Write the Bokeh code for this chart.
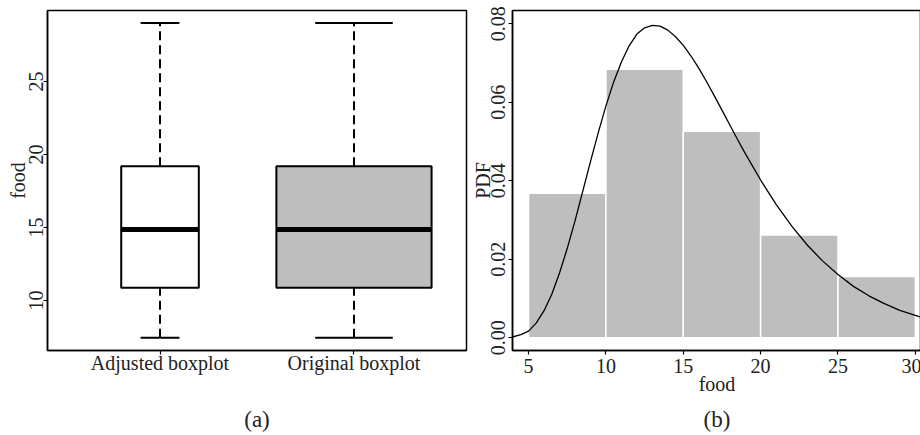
from bokeh.plotting import figure
from bokeh.layouts import row
from bokeh.models import (Range1d, FixedTicker, NumeralTickFormatter,
                          ColumnDataSource, LinearAxis)
from bokeh.embed import file_html
from bokeh.resources import INLINE

# ---------------- data ----------------
box_labels = ["Adjusted boxplot", "Original boxplot"]
box_lower = [7.45, 7.45]
box_q1 = [10.87, 10.87]
box_median = [14.86, 14.86]
box_q3 = [19.2, 19.2]
box_upper = [29.0, 29.0]
box_fill = ["white", "#BEBEBE"]
box_width = [0.4, 0.8]
y_ticks_a = [10, 15, 20, 25]

hist_edges = [5, 10, 15, 20, 25, 30]
hist_density = [0.0368, 0.0684, 0.0526, 0.0262, 0.0156]
x_ticks_b = [5, 10, 15, 20, 25, 30]
y_ticks_b = [0, 0.02, 0.04, 0.06, 0.08]

curve_x = [3.96, 4.5, 5, 5.5, 6, 6.5, 7, 7.5, 8, 8.5, 9, 9.5, 10, 10.5, 11,
           11.5, 12, 12.5, 13, 13.5, 14, 14.5, 15, 15.5, 16, 16.5, 17, 17.5,
           18, 18.5, 19, 19.5, 20, 21, 22, 23, 24, 25, 26, 27, 28, 29, 30, 30.4]
curve_y = [0.0002, 0.0008, 0.0017, 0.0038, 0.0069, 0.0111, 0.0165, 0.0228,
           0.0298, 0.0373, 0.0449, 0.0522, 0.0591, 0.0652, 0.0703, 0.0744,
           0.0774, 0.0790, 0.0796, 0.0794, 0.0784, 0.0767, 0.0745, 0.0718,
           0.0687, 0.0653, 0.0617, 0.0580, 0.0543, 0.0506, 0.0470, 0.0436,
           0.0402, 0.0340, 0.0285, 0.0237, 0.0196, 0.0161, 0.0131, 0.0107,
           0.0087, 0.0070, 0.0057, 0.0052]

FONT = "Liberation Serif"
TXT = "#222222"


def style_axes(p):
    for ax in p.axis:
        ax.axis_line_color = "black"
        ax.axis_line_width = 1.5
        ax.major_tick_line_color = "black"
        ax.major_tick_line_width = 1.2
        ax.major_tick_out = 4
        ax.major_tick_in = 0
        ax.minor_tick_line_color = None
        ax.major_label_text_font = FONT
        ax.major_label_text_font_size = "20px"
        ax.major_label_text_color = TXT
        ax.axis_label_text_font = FONT
        ax.axis_label_text_font_size = "20px"
        ax.axis_label_text_font_style = "normal"
        ax.axis_label_text_color = TXT
    p.xgrid.visible = False
    p.ygrid.visible = False
    p.outline_line_color = "black"
    p.outline_line_width = 1.5
    p.background_fill_color = "white"
    p.border_fill_color = "white"


# ---------------- panel (a) ----------------
pos = list(range(1, len(box_labels) + 1))
src = ColumnDataSource(dict(
    x=pos, lower=box_lower, q1=box_q1, med=box_median, q3=box_q3,
    upper=box_upper, fill=box_fill, w=box_width,
    x_l=[p - w / 2 for p, w in zip(pos, box_width)],
    x_r=[p + w / 2 for p, w in zip(pos, box_width)],
    c_l=[p - w / 4 for p, w in zip(pos, box_width)],
    c_r=[p + w / 4 for p, w in zip(pos, box_width)],
))

p1 = figure(frame_width=419, frame_height=340, output_backend="svg",
            toolbar_location=None,
            x_range=Range1d(0.42, 2.58), y_range=Range1d(6.58, 29.86),
            min_border_left=47, min_border_right=2, min_border_top=10,
            min_border_bottom=85)

p1.segment(x0="x", y0="q3", x1="x", y1="upper", source=src, line_color="black",
           line_width=2, line_dash="9 5")
p1.segment(x0="x", y0="lower", x1="x", y1="q1", source=src, line_color="black",
           line_width=2, line_dash="9 5")
p1.segment(x0="c_l", y0="upper", x1="c_r", y1="upper", source=src,
           line_color="black", line_width=2)
p1.segment(x0="c_l", y0="lower", x1="c_r", y1="lower", source=src,
           line_color="black", line_width=2)
p1.vbar(x="x", width="w", bottom="q1", top="q3", source=src, fill_color="fill",
        line_color="black", line_width=2)
p1.segment(x0="x_l", y0="med", x1="x_r", y1="med", source=src,
           line_color="black", line_width=5)

p1.xaxis.ticker = FixedTicker(ticks=pos)
p1.xaxis.major_label_overrides = {p: l for p, l in zip(pos, box_labels)}
p1.yaxis.ticker = FixedTicker(ticks=y_ticks_a)
p1.yaxis.major_label_orientation = "vertical"
style_axes(p1)
p1.yaxis.major_label_standoff = 0
p1.yaxis.axis_label = "food"
p1.yaxis.axis_label_standoff = -2
p1.xaxis.major_label_standoff = -3
p1.xaxis.axis_label = "(a)"
p1.xaxis.axis_label_standoff = 30
p1.xaxis.axis_label_text_font_size = "23px"

# ---------------- panel (b) ----------------
hsrc = ColumnDataSource(dict(left=hist_edges[:-1], right=hist_edges[1:],
                             top=hist_density))
p2 = figure(frame_width=409, frame_height=340, output_backend="svg",
            toolbar_location=None,
            x_range=Range1d(3.96, 30.4), y_range=Range1d(-0.00324, 0.0834),
            min_border_left=43, min_border_right=0, min_border_top=10,
            min_border_bottom=85)
p2.quad(left="left", right="right", top="top", bottom=0, source=hsrc,
        fill_color="#BEBEBE", line_color="white", line_width=1.5)
p2.line(curve_x, curve_y, line_color="black", line_width=1.3)

p2.xaxis.ticker = FixedTicker(ticks=x_ticks_b)
p2.yaxis.ticker = FixedTicker(ticks=y_ticks_b)
p2.yaxis.formatter = NumeralTickFormatter(format="0.00")
p2.yaxis.major_label_orientation = "vertical"
style_axes(p2)
p2.xaxis.major_label_standoff = 4
p2.xaxis.axis_label = "food"
p2.xaxis.axis_label_standoff = -3
p2.yaxis.major_label_standoff = 3
p2.yaxis.axis_label = "PDF"
p2.yaxis.axis_label_standoff = -5

cap_b = LinearAxis(ticker=FixedTicker(ticks=[]), axis_label="(b)",
                   axis_label_standoff=9, axis_line_color=None,
                   major_tick_line_color=None, minor_tick_line_color=None,
                   major_tick_out=0, minor_tick_out=0, major_label_standoff=0,
                   axis_label_text_font=FONT, axis_label_text_font_size="23px",
                   axis_label_text_font_style="normal",
                   axis_label_text_color=TXT)
p2.add_layout(cap_b, "below")

layout = row(p1, p2, spacing=0)
open("out.html", "w").write(file_html(layout, INLINE))
